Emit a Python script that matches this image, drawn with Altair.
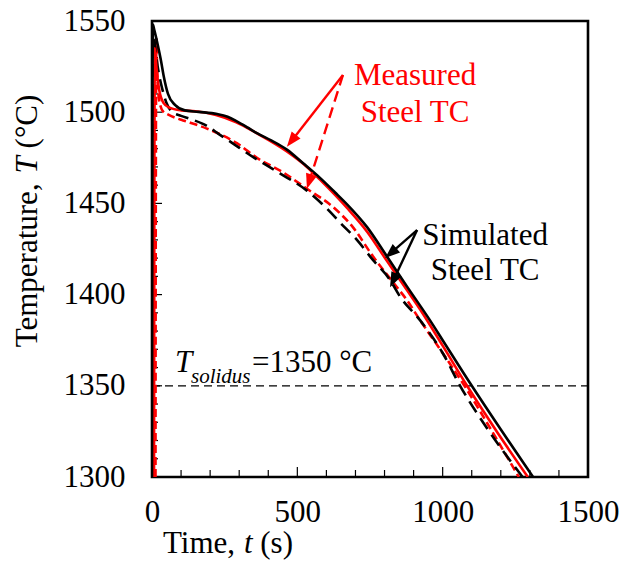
import math
import altair as alt
import pandas as pd

# ---------------- data ----------------
W, H = 436, 456
X_DOMAIN = [0, 1500]
Y_DOMAIN = [1300, 1550]

sim_solid_t = [0, 1, 3, 8, 14, 21, 30, 40, 55, 79, 113, 160, 224, 260, 292, 330, 361, 410, 464,
               520, 578, 630, 671, 740, 808, 877, 956, 1000, 1094, 1200, 1311]
sim_solid_T = [1300, 1450, 1548, 1545, 1541, 1536, 1529, 1520, 1510, 1504, 1501, 1500.2, 1499,
               1497.5, 1495, 1491.5, 1488.5, 1484.5, 1479.5, 1472, 1464, 1456, 1449.5, 1437,
               1421, 1404.5, 1386, 1375, 1351.5, 1326, 1300]

sim_dash_t = [0, 1, 3, 8, 15, 25, 35, 50, 70, 100, 137, 189, 230, 268, 347, 440, 533, 612, 647,
              705, 760, 819, 853, 922, 1000, 1060, 1160, 1275]
sim_dash_T = [1300, 1450, 1546, 1540, 1530, 1520, 1513, 1505, 1500, 1498, 1496, 1492.5, 1488,
              1484, 1475.5, 1466.5, 1457, 1445.5, 1439.5, 1430, 1419, 1408, 1399, 1386, 1368,
              1350, 1325, 1300]

meas_solid_t = [7, 8, 10, 15, 25, 40, 60, 100, 150, 220, 290, 360, 464, 533, 578, 671, 740, 808,
                877, 922, 1000, 1084, 1190, 1293]
meas_solid_T = [1300, 1450, 1535, 1525, 1512, 1505, 1502.5, 1501, 1500.5, 1498.5, 1494.5,
                1488.5, 1478.5, 1470, 1463, 1447.5, 1434.5, 1418.5, 1402.5, 1392, 1372, 1350,
                1324, 1300]

meas_dash_t = [12, 13, 15, 18, 22, 30, 40, 52, 79, 107, 189, 292, 361, 451, 533, 623, 691, 760,
               843, 877, 922, 1000, 1075, 1170, 1262]
meas_dash_T = [1300, 1450, 1540, 1522, 1510, 1503, 1500, 1499, 1497, 1495.5, 1491, 1483, 1475,
               1467, 1458, 1448, 1437, 1421, 1404, 1397, 1386, 1368, 1350, 1325, 1300]

solidus_T = 1350
x_label_values = [0, 500, 1000, 1500]
y_label_values = [1300, 1350, 1400, 1450, 1500, 1550]
x_minor_ticks = [100, 200, 300, 400, 600, 700, 800, 900, 1100, 1200, 1300, 1400]
x_major_ticks = [500, 1000]
y_minor_ticks = [1310, 1320, 1330, 1340, 1360, 1370, 1380, 1390, 1410, 1420, 1430, 1440,
                 1460, 1470, 1480, 1490, 1510, 1520, 1530, 1540]
y_major_ticks = [1350, 1400, 1450, 1500]

# annotation arrows: (start t, start T, tip t, tip T, style)
measured_arrows = [(657, 1520.4, 464, 1481.0, "solid"), (657, 1520.4, 533, 1458.0, "dash")]
simulated_arrows = [(912, 1435.4, 802, 1420.0, "solid"), (912, 1435.4, 819, 1404.0, "solid")]

FONT = "Liberation Serif"
FS = 31
RED = "#ff0000"

xs = alt.Scale(domain=X_DOMAIN, nice=False, zero=False)
ys = alt.Scale(domain=Y_DOMAIN, nice=False, zero=False)
x_axis = alt.Axis(values=x_label_values, format="d", ticks=False, domain=False, grid=False,
                  title=None, labelFont=FONT, labelFontSize=FS, labelColor="black",
                  labelPadding=20, labelFlush=False, labelOverlap=False, labelBound=False)
y_axis = alt.Axis(values=y_label_values, format="d", ticks=False, domain=False, grid=False,
                  title=None, labelFont=FONT, labelFontSize=FS, labelColor="black",
                  labelPadding=27, labelFlush=False, labelOverlap=False, labelBound=False)
X = alt.X("t:Q", scale=xs, axis=x_axis)
Y = alt.Y("T:Q", scale=ys, axis=y_axis)


def curve(t, T, color, dash=None, width=2.6):
    df = pd.DataFrame({"t": t, "T": T, "i": list(range(len(t)))})
    kw = dict(color=color, strokeWidth=width, clip=True, interpolate="monotone")
    if dash:
        kw["strokeDash"] = dash
    return alt.Chart(df).mark_line(**kw).encode(x=X, y=Y, order="i:Q")


layers = []

# solidus line
layers.append(
    alt.Chart(pd.DataFrame({"T": [solidus_T]}))
    .mark_rule(color="black", strokeWidth=1.3, strokeDash=[8, 5])
    .encode(y=Y, x=alt.value(0), x2=alt.value(W))
)

# inward ticks
layers.append(alt.Chart(pd.DataFrame({"t": x_minor_ticks})).mark_rule(color="black", strokeWidth=1.2)
              .encode(x=X, y=alt.value(H), y2=alt.value(H - 7)))
layers.append(alt.Chart(pd.DataFrame({"t": x_major_ticks})).mark_rule(color="black", strokeWidth=1.2)
              .encode(x=X, y=alt.value(H), y2=alt.value(H - 10)))
layers.append(alt.Chart(pd.DataFrame({"T": y_minor_ticks})).mark_rule(color="black", strokeWidth=1.2)
              .encode(y=Y, x=alt.value(0), x2=alt.value(6)))
layers.append(alt.Chart(pd.DataFrame({"T": y_major_ticks})).mark_rule(color="black", strokeWidth=1.2)
              .encode(y=Y, x=alt.value(0), x2=alt.value(10)))

# curves
layers.append(curve(meas_dash_t, meas_dash_T, RED, dash=[8, 4]))
layers.append(curve(sim_dash_t, sim_dash_T, "black", dash=[13, 7]))
layers.append(curve(meas_solid_t, meas_solid_T, RED))
layers.append(curve(sim_solid_t, sim_solid_T, "black"))

# arrows
HEAD = "M0,-1L0.75,1L-0.75,1Z"
HEAD_SIZE = 225
R = math.sqrt(HEAD_SIZE) / 2


def arrows(specs, color):
    out = []
    heads = []
    for t0, T0, t1, T1, style in specs:
        dx = (t1 - t0) * W / 1500.0
        dy = -(T1 - T0) * H / 250.0
        L = math.hypot(dx, dy)
        ux, uy = dx / L, dy / L
        ang = math.degrees(math.atan2(dx, -dy)) % 360
        tc = t1 - R * ux * 1500.0 / W
        Tc = T1 + R * uy * 250.0 / H
        df = pd.DataFrame({"t": [t0, tc], "T": [T0, Tc], "i": [0, 1]})
        kw = dict(color=color, strokeWidth=2.4)
        if style == "dash":
            kw["strokeDash"] = [11, 6]
        out.append(alt.Chart(df).mark_line(**kw).encode(x=X, y=Y, order="i:Q"))
        heads.append({"t": tc, "T": Tc, "a": ang})
    out.append(alt.Chart(pd.DataFrame(heads))
               .mark_point(shape=HEAD, size=HEAD_SIZE, filled=True, color=color, opacity=1,
                           strokeWidth=0)
               .encode(x=X, y=Y, angle=alt.Angle("a:Q", scale=None)))
    return out


layers += arrows(measured_arrows, RED)
layers += arrows(simulated_arrows, "black")

# annotation texts (data coordinates)
ann = pd.DataFrame({
    "t": [905, 905, 1146, 1146],
    "T": [1514.9, 1494.6, 1427.2, 1408.0],
    "txt": ["Measured", "Steel TC", "Simulated", "Steel TC"],
    "c": [RED, RED, "black", "black"],
})
layers.append(alt.Chart(ann).mark_text(font=FONT, fontSize=FS, align="center", baseline="alphabetic")
              .encode(x=X, y=Y, text="txt:N", color=alt.Color("c:N", scale=None)))

sol = [
    ("T", 79.1, 1357.6, FS, "italic"),
    ("solidus", 134.2, 1351.5, 21, "italic"),
    ("=1350 °C", 344.0, 1357.6, FS, "normal"),
]
for txt, t, T, fs, st in sol:
    layers.append(alt.Chart(pd.DataFrame({"t": [t], "T": [T], "txt": [txt]}))
                  .mark_text(font=FONT, fontSize=fs, fontStyle=st, align="left",
                             baseline="alphabetic", color="black")
                  .encode(x=X, y=Y, text="txt:N"))

# axis titles (pixel positions relative to plot area)
one = pd.DataFrame({"a": [0]})
xt = [("Time,", 11.0, "normal"), ("t", 92.0, "italic"), ("(s)", 108.3, "normal")]
for txt, xp, st in xt:
    layers.append(alt.Chart(one).mark_text(text=txt, font=FONT, fontSize=FS, fontStyle=st,
                                           align="left", baseline="alphabetic", color="black")
                  .encode(x=alt.value(xp), y=alt.value(532)))
yt = [("Temperature,", 326.3, "normal"), ("T", 326.3 - 173.9, "italic"),
      ("(°C)", 326.3 - 198.9, "normal")]
for txt, yp, st in yt:
    layers.append(alt.Chart(one).mark_text(text=txt, font=FONT, fontSize=FS, fontStyle=st,
                                           align="left", baseline="middle", angle=270,
                                           color="black")
                  .encode(x=alt.value(-124), y=alt.value(yp)))

chart = (
    alt.layer(*layers)
    .properties(width=W, height=H, autosize="none",
                padding={"left": 152, "top": 21, "right": 34, "bottom": 90})
    .configure(background="white")
    .configure_view(stroke="black", strokeWidth=2.6)
)

chart.save("out.html", embed_options={"renderer": "svg", "actions": False})
